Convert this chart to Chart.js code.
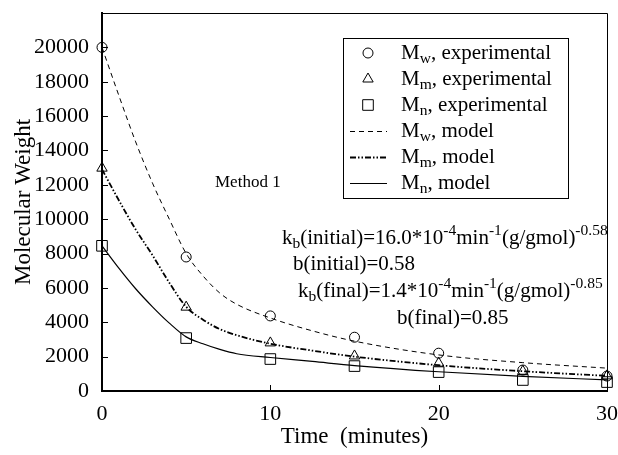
<!DOCTYPE html>
<html lang="en">
<head>
<meta charset="UTF-8">
<title>Molecular Weight vs Time</title>
<script src="https://cdn.jsdelivr.net/npm/chart.js"></script>
<style>
  html, body { margin: 0; padding: 0; background: #ffffff; }
</style>
</head>
<body>
<canvas id="myChart" width="618" height="455"></canvas>
<script>
// experimental points (minutes / g/gmol)
const expTimes = [0, 5, 10, 15, 20, 25, 30];
const mwExp = [20000, 7800, 4370, 3130, 2200, 1220, 870];
const mmExp = [12970, 4880, 2800, 2040, 1620, 1150, 880];
const mnExp = [8450, 3080, 1860, 1450, 1100, 640, 520];

// model curves
const modelTimes = [0, 1, 2, 3, 4, 5, 6, 7, 8, 10, 12.5, 15, 20, 25, 30];
const mwModel = [20000, 17200, 14500, 12100, 10000, 8000, 6700, 5700, 5050, 4250, 3500, 2900, 2100, 1650, 1330];
const mmModel = [12900, 11100, 9400, 7900, 6300, 4900, 4150, 3600, 3250, 2750, 2350, 2000, 1500, 1150, 880];
const mnModel = [8450, 7150, 5950, 4900, 3950, 3150, 2750, 2420, 2170, 1950, 1720, 1480, 1120, 850, 650];

const xTicks = [0, 10, 20, 30];
const yTicks = [0, 2000, 4000, 6000, 8000, 10000, 12000, 14000, 16000, 18000, 20000];

const serif = '"Liberation Serif", "DejaVu Serif", serif';
const mwDash = [5, 4];
const mmDash = [6, 2, 1.5, 2, 1.5, 2];

function pts(xs, ys) {
  return xs.map((t, i) => ({ x: t, y: ys[i] }));
}

// text with sub/superscripts, parts = [text, mode]
function richText(ctx, x, y, parts, size) {
  let cx = x;
  parts.forEach(([t, mode]) => {
    const fs = mode ? size * 0.74 : size;
    ctx.font = fs + 'px ' + serif;
    let dy = 0;
    if (mode === 'sub') dy = size * 0.3;
    if (mode === 'sup') dy = -size * 0.36;
    ctx.fillText(t, cx, y + dy);
    cx += ctx.measureText(t).width;
  });
}

const legendRows = [
  { parts: [['M', ''], ['w', 'sub'], [', experimental', '']], point: 'circle', r: 5 },
  { parts: [['M', ''], ['m', 'sub'], [', experimental', '']], point: 'triangle', r: 6 },
  { parts: [['M', ''], ['n', 'sub'], [', experimental', '']], point: 'rect', r: 7.5 },
  { parts: [['M', ''], ['w', 'sub'], [', model', '']], dash: mwDash, w: 1 },
  { parts: [['M', ''], ['m', 'sub'], [', model', '']], dash: mmDash, w: 1.8 },
  { parts: [['M', ''], ['n', 'sub'], [', model', '']], dash: [], w: 1.2 }
];

const notes = [
  { x: 215, y: 183, size: 17, parts: [['Method 1', '']] },
  { x: 282, y: 238, size: 21, parts: [['k', ''], ['b', 'sub'], ['(initial)=16.0*10', ''], ['-4', 'sup'], ['min', ''], ['-1', 'sup'], ['(g/gmol)', ''], ['-0.58', 'sup']] },
  { x: 293, y: 264, size: 21, parts: [['b(initial)=0.58', '']] },
  { x: 298, y: 291, size: 21, parts: [['k', ''], ['b', 'sub'], ['(final)=1.4*10', ''], ['-4', 'sup'], ['min', ''], ['-1', 'sup'], ['(g/gmol)', ''], ['-0.85', 'sup']] },
  { x: 397, y: 318, size: 21, parts: [['b(final)=0.85', '']] }
];

const decor = {
  id: 'decor',
  afterDraw(chart) {
    const { ctx, chartArea: a, scales: { x, y } } = chart;
    ctx.save();
    ctx.strokeStyle = '#000';
    ctx.fillStyle = '#000';
    ctx.lineWidth = 1;
    // top and right frame
    ctx.beginPath();
    ctx.moveTo(a.left, a.top + 0.5);
    ctx.lineTo(a.right + 0.5, a.top + 0.5);
    ctx.lineTo(a.right + 0.5, a.bottom);
    ctx.stroke();
    // inward ticks
    ctx.beginPath();
    xTicks.forEach(v => {
      const px = Math.round(x.getPixelForValue(v)) + 0.5;
      ctx.moveTo(px, a.bottom);
      ctx.lineTo(px, a.bottom - 6);
    });
    yTicks.forEach(v => {
      const py = Math.round(y.getPixelForValue(v)) + 0.5;
      ctx.moveTo(a.left, py);
      ctx.lineTo(a.left + 6, py);
    });
    ctx.stroke();

    // legend box
    ctx.strokeRect(343.5, 38.5, 225, 160);
    ctx.textBaseline = 'middle';
    ctx.textAlign = 'left';
    legendRows.forEach((row, i) => {
      const ry = 53 + i * 26;
      if (row.point) {
        ctx.save();
        ctx.fillStyle = 'rgba(0,0,0,0)';
        Chart.helpers.drawPoint(ctx, { pointStyle: row.point, radius: row.r, borderWidth: 1, rotation: 0 }, 368, ry);
        ctx.restore();
      } else {
        ctx.save();
        ctx.setLineDash(row.dash);
        ctx.lineWidth = row.w;
        ctx.beginPath();
        ctx.moveTo(350, ry + 0.5);
        ctx.lineTo(387, ry + 0.5);
        ctx.stroke();
        ctx.restore();
      }
      richText(ctx, 401, ry, row.parts, 21);
    });

    notes.forEach(n => richText(ctx, n.x, n.y, n.parts, n.size));
    ctx.restore();
  }
};

const ctx = document.getElementById('myChart').getContext('2d');
new Chart(ctx, {
  type: 'scatter',
  data: {
    datasets: [
      { label: 'Mw, model', data: pts(modelTimes, mwModel), showLine: true, borderColor: '#000', borderWidth: 1, borderDash: mwDash, pointRadius: 0, cubicInterpolationMode: 'monotone' },
      { label: 'Mm, model', data: pts(modelTimes, mmModel), showLine: true, borderColor: '#000', borderWidth: 1.8, borderDash: mmDash, pointRadius: 0, cubicInterpolationMode: 'monotone' },
      { label: 'Mn, model', data: pts(modelTimes, mnModel), showLine: true, borderColor: '#000', borderWidth: 1.2, pointRadius: 0, cubicInterpolationMode: 'monotone' },
      { label: 'Mw, experimental', data: pts(expTimes, mwExp), pointStyle: 'circle', pointRadius: 5, borderColor: '#000', backgroundColor: 'rgba(0,0,0,0)', borderWidth: 1 },
      { label: 'Mm, experimental', data: pts(expTimes, mmExp), pointStyle: 'triangle', pointRadius: 6, borderColor: '#000', backgroundColor: 'rgba(0,0,0,0)', borderWidth: 1 },
      { label: 'Mn, experimental', data: pts(expTimes, mnExp), pointStyle: 'rect', pointRadius: 7.5, borderColor: '#000', backgroundColor: 'rgba(0,0,0,0)', borderWidth: 1 }
    ]
  },
  options: {
    responsive: false,
    animation: false,
    clip: false,
    layout: { padding: { left: 0, right: 11, top: 13, bottom: 0 } },
    plugins: { legend: { display: false }, tooltip: { enabled: false } },
    scales: {
      x: {
        type: 'linear', min: 0, max: 30,
        afterBuildTicks: s => { s.ticks = xTicks.map(v => ({ value: v })); },
        afterFit: s => { s.height = 64; s.paddingLeft = 0; s.paddingRight = 0; },
        grid: { display: false },
        border: { display: true, color: '#000', width: 2 },
        ticks: { color: '#000', padding: 2, font: { family: serif, size: 22 } },
        title: { display: true, text: 'Time  (minutes)', color: '#000', padding: { top: 0, bottom: 4 }, font: { family: serif, size: 23 } }
      },
      y: {
        type: 'linear', min: 0, max: 22000,
        afterBuildTicks: s => { s.ticks = yTicks.map(v => ({ value: v })); },
        afterFit: s => { s.width = 102; s.paddingTop = 0; s.paddingBottom = 0; },
        grid: { display: false },
        border: { display: true, color: '#000', width: 2 },
        ticks: { color: '#000', padding: 5, font: { family: serif, size: 22 }, callback: v => String(v) },
        title: { display: true, text: 'Molecular Weight', color: '#000', padding: { top: 10, bottom: 0 }, font: { family: serif, size: 23 } }
      }
    }
  },
  plugins: [decor]
});
</script>
</body>
</html>
